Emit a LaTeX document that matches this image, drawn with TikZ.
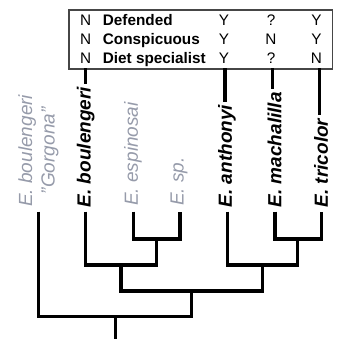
\documentclass[tikz,border=0pt]{standalone}
\usepackage{fontspec}
\setmainfont{Liberation Sans}
\definecolor{leafgrey}{RGB}{150,155,170}
\definecolor{boxline}{RGB}{70,70,70}
\begin{document}
\begin{tikzpicture}[x=1pt,y=-1pt,
  branch/.style={line width=3.2pt, line join=miter, line cap=butt},
  cell/.style={inner sep=0pt, anchor=base, font=\fontsize{15.3}{18}\selectfont},
  trait/.style={inner sep=0pt, anchor=base west, font=\fontsize{15.3}{18}\selectfont\bfseries},
  taxon/.style={inner sep=0pt, rotate=90, anchor=west, font=\fontsize{19}{22.5}\selectfont\bfseries\itshape},
  greytaxon/.style={inner sep=0pt, rotate=90, anchor=west, text=leafgrey, font=\fontsize{19}{22.5}\selectfont\itshape},
]
\useasboundingbox (0,0) rectangle (339,339);

% trait table
\node[draw=boxline, line width=1.3pt, minimum width=263.4pt, minimum height=59pt, inner sep=0pt, anchor=north west] (box) at (68.3,9.3) {};
\node[cell] (n1) at (85.7,26) {N};
\node[trait] (r1) at (102.7,26) {Defended};
\node[cell] (a1) at (224,26) {Y};
\node[cell] (m1) at (271,26) {?};
\node[cell] (t1) at (316.5,26) {Y};
\node[cell] (n2) at (85.7,44.7) {N};
\node[trait] (r2) at (102.7,44.7) {Conspicuous};
\node[cell] (a2) at (224,44.7) {Y};
\node[cell] (m2) at (271,44.7) {N};
\node[cell] (t2) at (316.5,44.7) {Y};
\node[cell] (n3) at (85.7,63.4) {N};
\node[trait] (r3) at (102.7,63.4) {Diet specialist};
\node[cell] (a3) at (224,63.4) {Y};
\node[cell] (m3) at (271,63.4) {?};
\node[cell] (t3) at (316.5,63.4) {N};

% taxon labels
\node[greytaxon, align=center] (tg) at (38.4,207) {E. boulengeri\\"Gorgona"};
\node[taxon] (tb) at (85.7,207.5) {E. boulengeri};
\node[greytaxon] (te) at (133,206) {E. espinosai};
\node[greytaxon] (ts) at (179,206) {E. sp.};
\node[taxon] (ta) at (227,207.5) {E. anthonyi};
\node[taxon] (tm) at (274.5,207.5) {E. machalilla};
\node[taxon] (tt) at (321,207.5) {E. tricolor};

% stubs from table to labels
\coordinate (cb) at (85.7,68.3);
\coordinate (ca) at (225,68.3);
\coordinate (cm) at (272.3,68.3);
\coordinate (ct) at (319.3,68.3);
\draw[branch, shorten >=3pt] (cb) -- (cb |- tb.east);
\draw[branch, shorten >=3pt] (ca) -- (ca |- ta.east);
\draw[branch, shorten >=3pt] (cm) -- (cm |- tm.east);
\draw[branch, shorten >=3pt] (ct) -- (ct |- tt.east);

% tree
\coordinate (lg) at (38.7,211.5);
\coordinate (lb) at (85.7,211.5);
\coordinate (le) at (133.3,211.5);
\coordinate (ls) at (180,211.5);
\coordinate (la) at (227.3,211.5);
\coordinate (lm) at (275,211.5);
\coordinate (lt) at (321.7,211.5);
\coordinate (jes) at (156.7,239);
\coordinate (jmt) at (297.7,239);
\coordinate (jbes) at (121,265);
\coordinate (jamt) at (262.6,265);
\coordinate (jin) at (191.8,291);
\coordinate (jroot) at (115.3,316.7);
\coordinate (base) at (115.3,339);
\draw[branch] (le) |- (jes) -| (ls);
\draw[branch] (lm) |- (jmt) -| (lt);
\draw[branch] (lb) |- (jbes) -| (jes);
\draw[branch] (la) |- (jamt) -| (jmt);
\draw[branch] (jbes) |- (jin) -| (jamt);
\draw[branch] (lg) |- (jroot) -| (jin);
\draw[branch] (jroot) -- (base);
\end{tikzpicture}
\end{document}
